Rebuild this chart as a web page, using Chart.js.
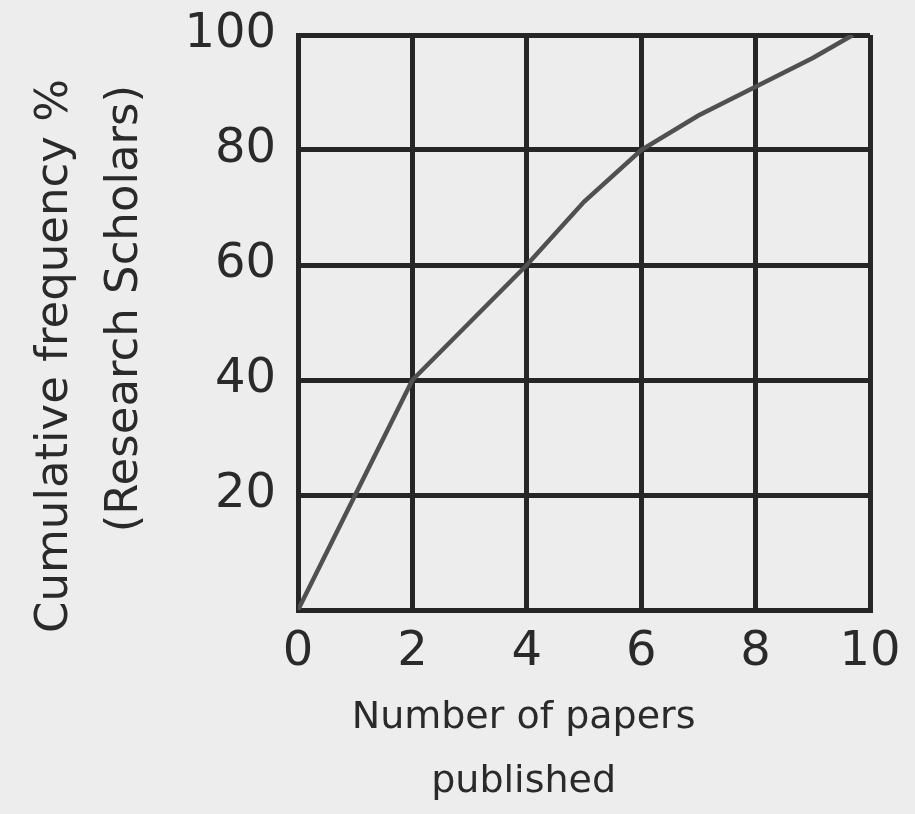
<!DOCTYPE html>
<html><head><meta charset="utf-8">
<script src="https://cdn.jsdelivr.net/npm/chart.js@4"></script>
<style>html,body{margin:0;padding:0;background:#ededed;} #wrap{width:915px;height:814px;}</style>
</head><body><div id="wrap"><canvas id="c" width="915" height="814"></canvas></div>
<script>
const papers = [0, 1, 2, 3, 4, 5, 6, 7, 8, 9, 9.7];
const cumulativePct = [0, 20, 40, 50, 60, 71, 80, 86, 91, 96, 100];
const xTickLabels = ['0', '2', '4', '6', '8', '10'];
const yTickLabels = ['20', '40', '60', '80', '100'];
const xTitle = ['Number of papers', 'published'];
const yTitle = ['Cumulative frequency %', '(Research Scholars)'];

const GRID = '#262626';
const TEXT = '#2a2a2a';
const FONT = 'DejaVu Sans';
const pad = (arr, n) => arr.map(s => s + ' '.repeat(n));

// y-axis title: two rotated lines, both ending near the top of the plot
const yTitlePlugin = {
  id: 'yTitle',
  afterDraw(chart) {
    const ctx = chart.ctx;
    const area = chart.chartArea;
    ctx.save();
    ctx.fillStyle = TEXT;
    ctx.font = '45px "' + FONT + '"';
    ctx.textBaseline = 'middle';
    ctx.textAlign = 'right';
    const xs = [55, 125];
    yTitle.forEach((line, i) => {
      ctx.save();
      ctx.translate(xs[i], area.top + 44 + i * 6);
      ctx.rotate(-Math.PI / 2);
      ctx.fillText(line, 0, 0);
      ctx.restore();
    });
    ctx.restore();
  }
};

new Chart(document.getElementById('c'), {
  type: 'line',
  data: {
    datasets: [{
      data: papers.map((x, i) => ({ x: x, y: cumulativePct[i] })),
      borderColor: '#505050',
      borderWidth: 4.5,
      pointRadius: 0,
      tension: 0,
      fill: false
    }]
  },
  options: {
    responsive: false,
    animation: false,
    layout: { padding: { top: 35, right: 45, left: 0, bottom: 0 } },
    plugins: { legend: { display: false }, tooltip: { enabled: false } },
    scales: {
      x: {
        type: 'linear', min: 0, max: 10,
        afterFit: s => { s.height = 204; s.paddingLeft = 0; s.paddingRight = 0; },
        grid: { color: GRID, lineWidth: 5, drawTicks: false },
        border: { display: true, color: GRID, width: 5 },
        ticks: {
          stepSize: 2, padding: 14, color: TEXT,
          font: { family: FONT, size: 48 },
          callback: v => xTickLabels.includes(String(v)) ? String(v) : ''
        },
        title: {
          display: true, text: pad(xTitle, 10), color: TEXT,
          font: { family: FONT, size: 38, lineHeight: 1.68 },
          padding: { top: 0, bottom: 0 }
        }
      },
      y: {
        type: 'linear', min: 0, max: 100,
        afterFit: s => { s.width = 298; s.paddingTop = 0; s.paddingBottom = 0; },
        grid: { color: GRID, lineWidth: 5, drawTicks: false },
        border: { display: true, color: GRID, width: 5 },
        ticks: {
          stepSize: 20, padding: 22, color: TEXT,
          font: { family: FONT, size: 48 },
          callback: v => yTickLabels.includes(String(v)) ? String(v) : ''
        },
        title: { display: false }
      }
    }
  },
  plugins: [yTitlePlugin]
});
</script></body></html>
